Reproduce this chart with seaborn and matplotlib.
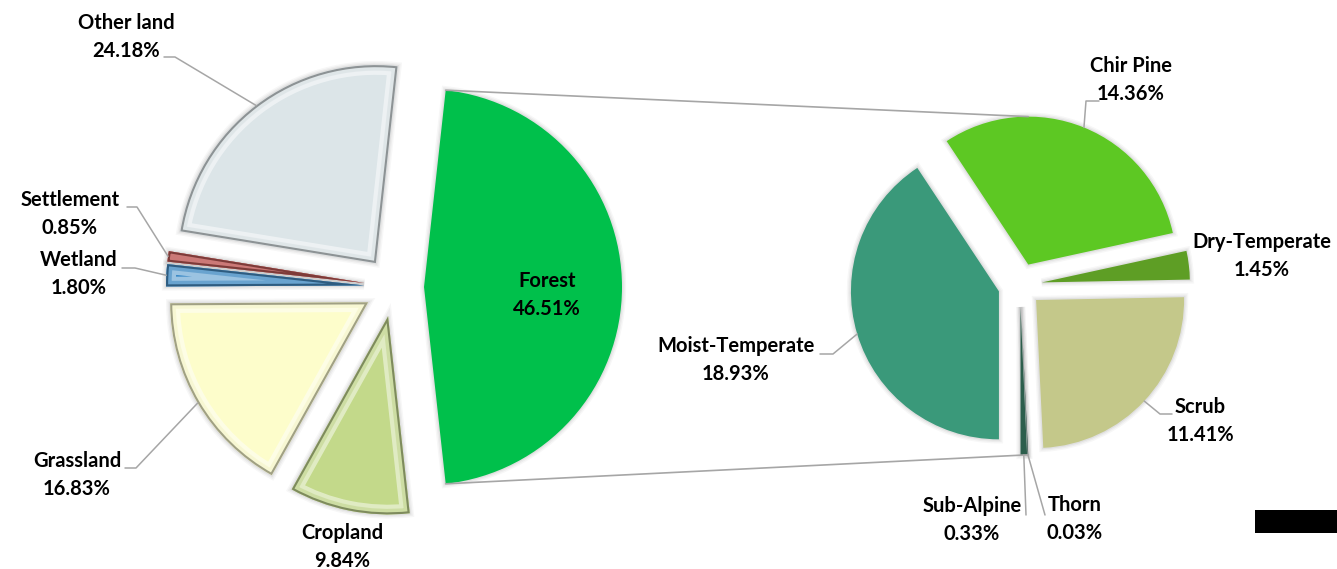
import numpy as np
import matplotlib
matplotlib.use("Agg")
import matplotlib.pyplot as plt
import seaborn as sns
from matplotlib.patches import Rectangle, Wedge
import matplotlib.colors as mcolors

sns.set_theme(style="white")
plt.rcParams['font.family'] = ['Lato', 'DejaVu Sans']

# ---------------- data ----------------
main_labels = ["Forest", "Other land", "Settlement", "Wetland", "Grassland", "Cropland"]
main_values = [46.51, 24.18, 0.85, 1.80, 16.83, 9.84]
main_colors = ["#00C04B", "#DCE5E8", "#C0504D", "#3A89C6", "#FDFDCB", "#C3D98A"]

sub_labels = ["Chir Pine", "Dry-Temperate", "Scrub", "Thorn", "Sub-Alpine", "Moist-Temperate"]
sub_values = [14.36, 1.45, 11.41, 0.03, 0.33, 18.93]
sub_colors = ["#5DC823", "#5E9E25", "#C4C88A", "#163F34", "#2C5E4C", "#3A997A"]

# ---------------- layout (pixel coords) ----------------
W, H = 1337, 569
def P(x, y):
    return (x, H - y)

fig = plt.figure(figsize=(W / 100, H / 100), dpi=100)
ax = fig.add_axes([0, 0, 1, 1])

left_center = P(394, 287)
left_r = 198
left_expl = 30
right_center = P(1020, 285)
right_r = 148
right_expl = 22

forest_deg = main_values[0] / sum(main_values) * 360
wedges_l, _ = ax.pie(main_values, colors=main_colors, radius=left_r, center=left_center,
                     startangle=-forest_deg / 2, counterclock=True,
                     explode=[left_expl] * len(main_values), frame=True,
                     wedgeprops=dict(linewidth=0))

moist_deg = sub_values[-1] / sum(sub_values) * 360
wedges_r, _ = ax.pie(sub_values, colors=sub_colors, radius=right_r, center=right_center,
                     startangle=270 - moist_deg, counterclock=False,
                     explode=[right_expl] * len(sub_values), frame=True,
                     wedgeprops=dict(linewidth=0))

def mix(c, other, t):
    a = np.array(mcolors.to_rgb(c)); b = np.array(mcolors.to_rgb(other))
    return tuple(a * (1 - t) + b * t)

# bevel effect on the non-forest slices of the left pie
for w, c in zip(wedges_l[1:], main_colors[1:]):
    for lw, col, al in [(14, mix(c, "white", 0.55), 0.9),
                        (8, mix(c, "black", 0.04), 0.5),
                        (3, mix(c, "black", 0.45), 0.8)]:
        e = Wedge(w.center, w.r, w.theta1, w.theta2,
                  facecolor="none", edgecolor=col, linewidth=lw, alpha=al)
        ax.add_patch(e)
        e.set_clip_path(w)

# subtle shadow around slices
for w in list(wedges_r) + list(wedges_l):
    for k, a in [(6, 0.03), (4, 0.04), (2, 0.05)]:
        s = Wedge(w.center, w.r, w.theta1, w.theta2, facecolor="none",
                  edgecolor="black", linewidth=k, alpha=a, zorder=0)
        ax.add_patch(s)

def arc_point(w, frac=0.5):
    ang = np.deg2rad(w.theta1 + (w.theta2 - w.theta1) * frac)
    return (w.center[0] + w.r * np.cos(ang), w.center[1] + w.r * np.sin(ang))

# connector lines between forest slice and the second pie
fw = wedges_l[0]
f_top = (fw.center[0] + fw.r * np.cos(np.deg2rad(fw.theta2)),
         fw.center[1] + fw.r * np.sin(np.deg2rad(fw.theta2)))
f_bot = (fw.center[0] + fw.r * np.cos(np.deg2rad(fw.theta1)),
         fw.center[1] + fw.r * np.sin(np.deg2rad(fw.theta1)))
cw = wedges_r[0]
r_top = (cw.center[0], cw.center[1] + cw.r)
tw = wedges_r[3]
r_bot = arc_point(tw, 0.5)
line_col = "#A6A6A6"
ax.plot([f_top[0], r_top[0]], [f_top[1], r_top[1]], color=line_col, lw=1.2, zorder=1)
ax.plot([f_bot[0], r_bot[0]], [f_bot[1], r_bot[1]], color=line_col, lw=1.2, zorder=1)

# labels: (text centre px, elbow points px)
main_label_pos = {
    "Forest": ((547, 295), None),
    "Other land": ((126, 37), [(175, 57), (164, 57)]),
    "Settlement": ((70, 214), [(137, 207), (127, 207)]),
    "Wetland": ((79, 274), [(135, 268), (122, 268)]),
    "Grassland": ((77, 475), [(136, 468), (125, 468)]),
    "Cropland": ((342, 547), None),
}
sub_label_pos = {
    "Chir Pine": ((1131, 80), [(1086, 101), (1099, 101)]),
    "Dry-Temperate": ((1262, 256), None),
    "Scrub": ((1200, 421), [(1160, 414), (1172, 414)]),
    "Thorn": ((1075, 519), [(1045, 515)]),
    "Sub-Alpine": ((972, 520), [(1026, 515)]),
    "Moist-Temperate": ((736, 360), [(833, 354), (820, 354)]),
}

def draw_labels(wedges, labels, values, posmap):
    for w, name, v in zip(wedges, labels, values):
        (tx, ty), elbow = posmap[name]
        ax.text(*P(tx, ty), f"{name}\n{v:.2f}%", ha="center", va="center",
                fontsize=14.5, fontweight="bold", color="black", linespacing=1.45, zorder=5)
        if elbow:
            a = arc_point(w, 0.5)
            xs = [a[0]] + [P(*e)[0] for e in elbow]
            ys = [a[1]] + [P(*e)[1] for e in elbow]
            ax.plot(xs, ys, color=line_col, lw=1.1, zorder=4)

draw_labels(wedges_l, main_labels, main_values, main_label_pos)
draw_labels(wedges_r, sub_labels, sub_values, sub_label_pos)

# black bar at bottom right
ax.add_patch(Rectangle(P(1255, 533), 82, 23, facecolor="black", edgecolor="none"))

ax.set_xlim(0, W)
ax.set_ylim(0, H)
ax.set_aspect("equal")
ax.axis("off")
fig.savefig("out.png", dpi=100, facecolor="white")
